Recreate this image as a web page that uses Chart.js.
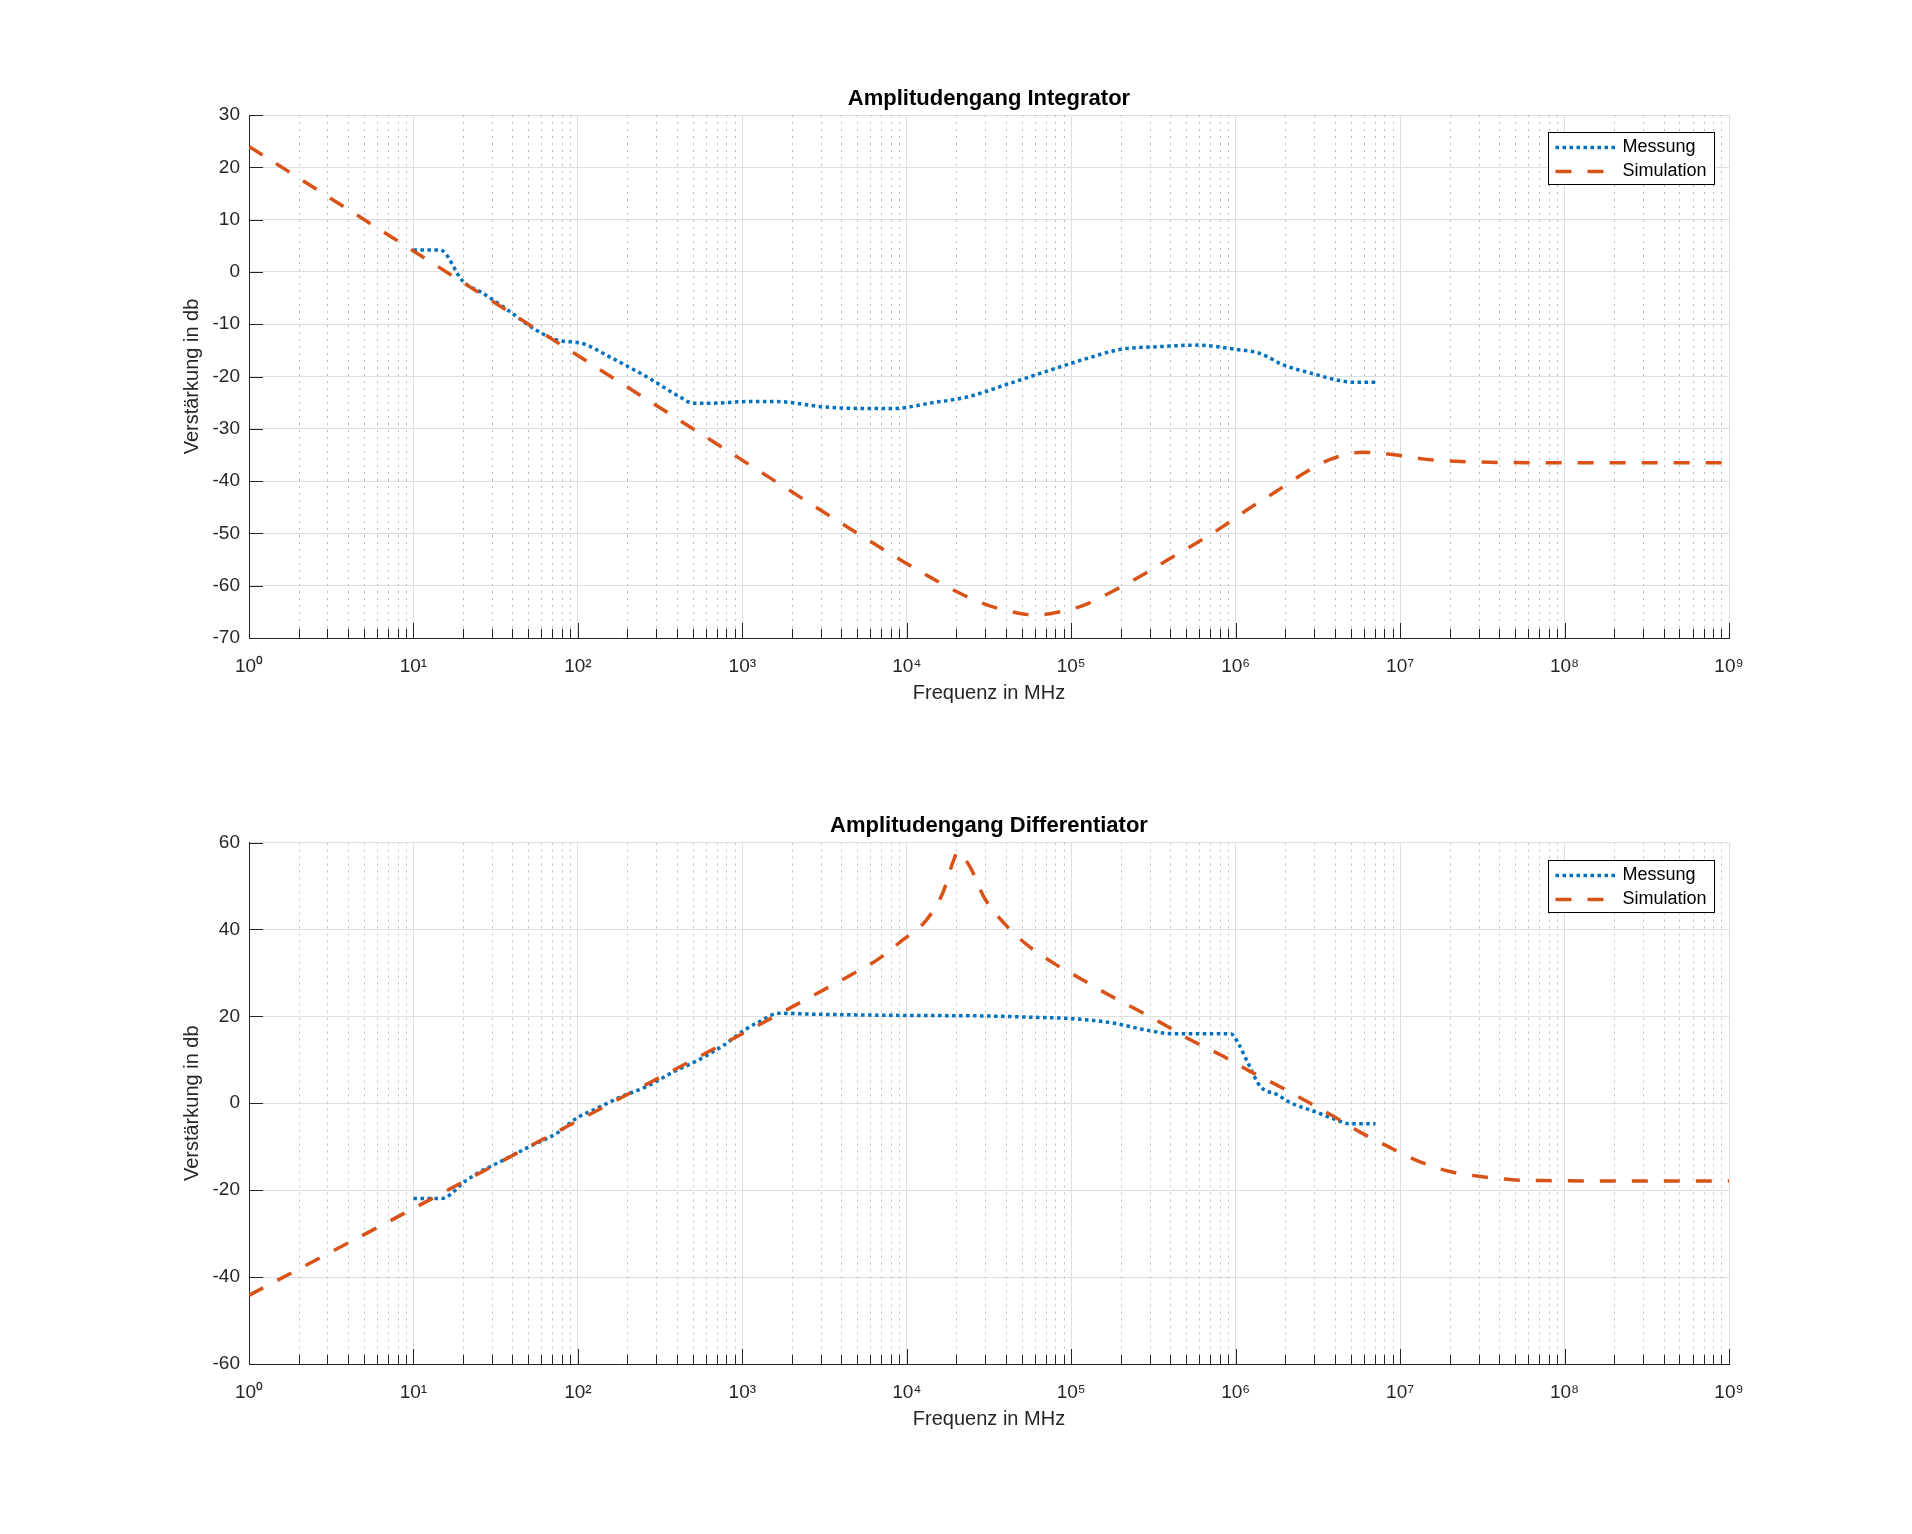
<!DOCTYPE html>
<html>
<head>
<meta charset="utf-8">
<script src="https://cdn.jsdelivr.net/npm/chart.js@4.4.0/dist/chart.umd.min.js"></script>
<style>
  body { margin: 0; background: #fff; }
  .box { position: absolute; left: 0; width: 1912px; height: 767px; }
</style>
</head>
<body>
<div class="box" style="top:0"><canvas id="c1"></canvas></div>
<div class="box" style="top:767px"><canvas id="c2"></canvas></div>
<script>
// ---- data ----
var xTickLabels = ['10\u2070', '10\u00b9', '10\u00b2', '10\u00b3', '10\u2074', '10\u2075', '10\u2076', '10\u2077', '10\u2078', '10\u2079'];
var intYTicks = [-70, -60, -50, -40, -30, -20, -10, 0, 10, 20, 30];
var difYTicks = [-60, -40, -20, 0, 20, 40, 60];

// Integrator, Messung
var intMessFreq = [10, 14.5, 20, 26.5, 38.6, 53.5, 74.1, 107, 155, 263, 417, 501, 661, 1072, 1622, 3090, 5248, 8511,
  13800, 23440, 39810, 69180, 117500, 2e5, 3.39e5, 5.89e5, 1e6, 1.41e6, 1.95e6, 2.82e6, 4.17e6, 5.13e6, 7.08e6];
var intMessDb = [4.2, 4.2, -1.8, -4.1, -7.6, -10.8, -13.0, -13.7, -16.2, -20.1, -23.9, -25.1, -25.1, -24.8, -24.8, -25.8, -26.1, -26.1,
  -25.1, -23.9, -21.6, -19.1, -16.8, -14.8, -14.3, -14.0, -14.8, -15.6, -17.8, -19.3, -20.7, -21.1, -21.1];

// Integrator, Simulation
var intSimFreq = [1, 10, 100, 1000, 4467, 9550, 14125, 20890, 31620, 48980, 60260, 75860, 117500, 177800, 263000, 384600,
  567500, 826000, 1.2e6, 1.74e6, 2.57e6, 3.8e6, 5.89e6, 8.91e6, 1.41e7, 2.19e7, 3.55e7, 1e8, 1e9];
var intSimDb = [24, 4, -16, -36, -49, -55.4, -58.5, -61.4, -63.8, -65.3, -65.6, -65.3, -63.8, -61.1, -58.2, -55.1,
  -52.0, -48.8, -45.3, -42.1, -38.6, -35.8, -34.5, -34.9, -35.8, -36.2, -36.4, -36.5, -36.5];

// Differentiator, Messung
var difMessFreq = [10, 14.8, 20.9, 25.1, 33.9, 51.3, 75.9, 97.7, 135, 186, 257, 372, 550, 759, 1047, 1288, 1660, 2692,
  1e4, 28840, 56230, 97720, 1.778e5, 2.884e5, 4.17e5, 9.33e5, 1.047e6, 1.2e6, 1.41e6, 1.78e6, 2.19e6, 3.02e6, 4.07e6, 4.9e6, 7.08e6];
var difMessDb = [-21.9, -21.9, -17.8, -15.9, -13.4, -9.9, -6.7, -3.5, -0.9, 1.6, 3.7, 7.0, 10.1, 13.2, 17.0, 18.9, 20.7, 20.5,
  20.2, 20.1, 19.8, 19.5, 18.5, 16.8, 16.0, 16.0, 13.5, 8.9, 3.9, 2.0, 0.0, -1.9, -3.8, -4.7, -4.7];

// Differentiator, Simulation
var difSimFreq = [1, 10, 100, 1000, 3162, 4467, 6607, 9333, 13183, 16600, 19050, 20420, 24550, 29510, 38900, 53700, 77620,
  1.148e5, 1.698e5, 2.512e5, 3.715e5, 5.37e5, 8.128e5, 1.2e6, 1.82e6, 2.69e6, 3.98e6, 5.75e6, 8.71e6, 1.29e7, 1.95e7,
  3.16e7, 4.79e7, 7.59e7, 3.16e8, 1e9];
var difSimDb = [-44.2, -24.2, -4, 16, 26.2, 29.3, 33.0, 37.4, 42.2, 48.5, 55.4, 57.8, 54, 47.4, 41.5, 36.5, 32.3,
  28.6, 24.9, 21.5, 18.0, 14.5, 11.1, 7.5, 4.0, 0.5, -3.1, -6.7, -10.2, -13.3, -15.6,
  -16.9, -17.6, -17.8, -17.9, -17.9];

// ---- helpers ----
var FONT = "'Liberation Sans', Arial, Helvetica, sans-serif";
var AXIS_COL = '#262626';
var BLUE = '#0072BD';
var RED = '#D95319';

function pts(fs, ys) {
  return fs.map(function (f, i) { return { x: f, y: ys[i] }; });
}
function isDecade(v) {
  var l = Math.log10(v);
  return Math.abs(l - Math.round(l)) < 1e-9;
}
var xGridValues = [];
for (var e = 0; e < 9; e++) {
  for (var m = 1; m < 10; m++) xGridValues.push(m * Math.pow(10, e));
}
xGridValues.push(1e9);

var matlabLook = {
  id: 'matlabLook',
  beforeDatasetsDraw: function (chart) {
    var ctx = chart.ctx, a = chart.chartArea, x = chart.scales.x;
    ctx.save();
    ctx.strokeStyle = '#bcbcbc';
    ctx.lineWidth = 1;
    ctx.setLineDash([2, 5]);
    x.ticks.forEach(function (t) {
      if (isDecade(t.value)) return;
      var px = Math.round(x.getPixelForValue(t.value)) + 0.5;
      ctx.beginPath();
      ctx.moveTo(px, a.top);
      ctx.lineTo(px, a.bottom);
      ctx.stroke();
    });
    ctx.restore();
  },
  afterDraw: function (chart) {
    var ctx = chart.ctx, a = chart.chartArea, x = chart.scales.x, y = chart.scales.y;
    ctx.save();
    // inward tick marks
    ctx.strokeStyle = AXIS_COL;
    ctx.lineWidth = 1;
    x.ticks.forEach(function (t) {
      var px = Math.round(x.getPixelForValue(t.value)) + 0.5;
      var len = isDecade(t.value) ? 15 : 9;
      ctx.beginPath();
      ctx.moveTo(px, a.bottom);
      ctx.lineTo(px, a.bottom - len);
      ctx.stroke();
    });
    y.ticks.forEach(function (t) {
      var py = Math.round(y.getPixelForValue(t.value)) + 0.5;
      ctx.beginPath();
      ctx.moveTo(a.left, py);
      ctx.lineTo(a.left + 14, py);
      ctx.stroke();
    });
    // legend box
    var w = 166, h = 52;
    var bx = Math.round(a.right - 15 - w) + 0.5, by = Math.round(a.top + 17) + 0.5;
    ctx.fillStyle = '#fff';
    ctx.fillRect(bx, by, w, h);
    ctx.strokeStyle = '#000';
    ctx.strokeRect(bx, by, w, h);
    ctx.font = '18px ' + FONT;
    ctx.textBaseline = 'middle';
    chart.data.datasets.forEach(function (ds, i) {
      var ry = by + 15 + i * 24;
      ctx.save();
      ctx.strokeStyle = ds.borderColor;
      ctx.lineWidth = ds.borderWidth;
      ctx.setLineDash(ds.borderDash);
      ctx.beginPath();
      ctx.moveTo(bx + 7, ry);
      ctx.lineTo(bx + 67, ry);
      ctx.stroke();
      ctx.restore();
      ctx.fillStyle = '#000';
      ctx.fillText(ds.label, bx + 74, ry);
    });
    ctx.restore();
  }
};

function makeChart(id, title, mess, sim, yTicks, pad) {
  return new Chart(document.getElementById(id), {
    type: 'line',
    data: {
      datasets: [
        { label: 'Messung', data: mess, borderColor: BLUE, borderWidth: 3.5, borderDash: [3.5, 3.5],
          pointRadius: 0, fill: false, cubicInterpolationMode: 'monotone', order: 1 },
        { label: 'Simulation', data: sim, borderColor: RED, borderWidth: 3.5, borderDash: [16, 16],
          pointRadius: 0, fill: false, cubicInterpolationMode: 'monotone', order: 0 }
      ]
    },
    options: {
      responsive: true,
      maintainAspectRatio: false,
      animation: false,
      devicePixelRatio: 1,
      layout: { padding: pad },
      plugins: {
        legend: { display: false },
        tooltip: { enabled: false },
        title: {
          display: true, text: title, color: '#000', fullSize: false,
          font: { family: FONT, size: 22, weight: 'bold' },
          padding: { top: 0, bottom: 3 }
        }
      },
      scales: {
        x: {
          type: 'logarithmic', min: 1, max: 1e9,
          afterBuildTicks: function (s) {
            s.ticks = xGridValues.map(function (v) { return { value: v }; });
          },
          afterFit: function (s) { s.height = 67; },
          ticks: {
            autoSkip: false, maxRotation: 0, padding: 17, color: AXIS_COL,
            font: { family: FONT, size: 19 },
            callback: function (v) {
              return isDecade(v) ? xTickLabels[Math.round(Math.log10(v))] : '';
            }
          },
          grid: {
            drawTicks: false, lineWidth: 1,
            color: function (c) { return c.tick && isDecade(c.tick.value) ? '#dedede' : 'rgba(0,0,0,0)'; }
          },
          border: { color: AXIS_COL, width: 1 },
          title: { display: true, text: 'Frequenz in MHz', color: AXIS_COL,
            font: { family: FONT, size: 20 }, padding: { top: 0, bottom: 0 } }
        },
        y: {
          min: yTicks[0], max: yTicks[yTicks.length - 1],
          afterBuildTicks: function (s) {
            s.ticks = yTicks.map(function (v) { return { value: v }; });
          },
          afterFit: function (s) { s.width = 69; },
          ticks: { padding: 9, color: AXIS_COL, font: { family: FONT, size: 19 } },
          grid: { drawTicks: false, color: '#dedede', lineWidth: 1 },
          border: { color: AXIS_COL, width: 1 },
          title: { display: true, text: 'Verstärkung in db', color: AXIS_COL,
            font: { family: FONT, size: 20 }, padding: { top: 0, bottom: 0 } }
        }
      }
    },
    plugins: [matlabLook]
  });
}

makeChart('c1', 'Amplitudengang Integrator', pts(intMessFreq, intMessDb), pts(intSimFreq, intSimDb),
  intYTicks, { left: 180, right: 183, top: 85.6, bottom: 62 });
makeChart('c2', 'Amplitudengang Differentiator', pts(difMessFreq, difMessDb), pts(difSimFreq, difSimDb),
  difYTicks, { left: 180, right: 183, top: 46.1, bottom: 103 });
</script>
</body>
</html>
